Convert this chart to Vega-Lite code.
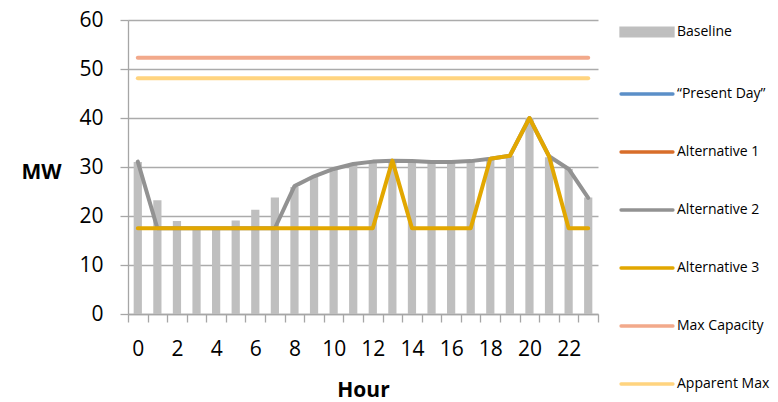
{
  "$schema": "https://vega.github.io/schema/vega-lite/v6.json",
  "width": 470,
  "height": 294,
  "autosize": {"type": "none"},
  "padding": {"left": 128, "top": 20, "right": 180, "bottom": 88},
  "background": "white",
  "config": {
    "view": {"stroke": null},
    "font": "Open Sans",
    "axis": {"labelFont": "Open Sans", "titleFont": "Open Sans", "labelColor": "#000000", "titleColor": "#000000", "domainColor": "#A6A6A6", "tickColor": "#A6A6A6", "gridColor": "#ABABAB", "domainWidth": 1.3, "tickWidth": 1.3, "gridWidth": 1.3}
  },
  "datasets": {
    "baseline": [
      {"hour": 0, "value": 31.0}, {"hour": 1, "value": 23.2}, {"hour": 2, "value": 19.0}, {"hour": 3, "value": 17.3},
      {"hour": 4, "value": 17.3}, {"hour": 5, "value": 19.1}, {"hour": 6, "value": 21.3}, {"hour": 7, "value": 23.8},
      {"hour": 8, "value": 25.9}, {"hour": 9, "value": 28.0}, {"hour": 10, "value": 29.5}, {"hour": 11, "value": 30.5},
      {"hour": 12, "value": 30.9}, {"hour": 13, "value": 31.3}, {"hour": 14, "value": 31.1}, {"hour": 15, "value": 31.0},
      {"hour": 16, "value": 31.0}, {"hour": 17, "value": 31.2}, {"hour": 18, "value": 31.7}, {"hour": 19, "value": 32.3},
      {"hour": 20, "value": 40.0}, {"hour": 21, "value": 32.0}, {"hour": 22, "value": 29.6}, {"hour": 23, "value": 23.8}
    ],
    "lines": [
      {"series": "Max Capacity", "hour": 0, "value": 52.3}, {"series": "Max Capacity", "hour": 1, "value": 52.3}, {"series": "Max Capacity", "hour": 2, "value": 52.3}, {"series": "Max Capacity", "hour": 3, "value": 52.3},
      {"series": "Max Capacity", "hour": 4, "value": 52.3}, {"series": "Max Capacity", "hour": 5, "value": 52.3}, {"series": "Max Capacity", "hour": 6, "value": 52.3}, {"series": "Max Capacity", "hour": 7, "value": 52.3},
      {"series": "Max Capacity", "hour": 8, "value": 52.3}, {"series": "Max Capacity", "hour": 9, "value": 52.3}, {"series": "Max Capacity", "hour": 10, "value": 52.3}, {"series": "Max Capacity", "hour": 11, "value": 52.3},
      {"series": "Max Capacity", "hour": 12, "value": 52.3}, {"series": "Max Capacity", "hour": 13, "value": 52.3}, {"series": "Max Capacity", "hour": 14, "value": 52.3}, {"series": "Max Capacity", "hour": 15, "value": 52.3},
      {"series": "Max Capacity", "hour": 16, "value": 52.3}, {"series": "Max Capacity", "hour": 17, "value": 52.3}, {"series": "Max Capacity", "hour": 18, "value": 52.3}, {"series": "Max Capacity", "hour": 19, "value": 52.3},
      {"series": "Max Capacity", "hour": 20, "value": 52.3}, {"series": "Max Capacity", "hour": 21, "value": 52.3}, {"series": "Max Capacity", "hour": 22, "value": 52.3}, {"series": "Max Capacity", "hour": 23, "value": 52.3},
      {"series": "Apparent Max", "hour": 0, "value": 48.1}, {"series": "Apparent Max", "hour": 1, "value": 48.1}, {"series": "Apparent Max", "hour": 2, "value": 48.1}, {"series": "Apparent Max", "hour": 3, "value": 48.1},
      {"series": "Apparent Max", "hour": 4, "value": 48.1}, {"series": "Apparent Max", "hour": 5, "value": 48.1}, {"series": "Apparent Max", "hour": 6, "value": 48.1}, {"series": "Apparent Max", "hour": 7, "value": 48.1},
      {"series": "Apparent Max", "hour": 8, "value": 48.1}, {"series": "Apparent Max", "hour": 9, "value": 48.1}, {"series": "Apparent Max", "hour": 10, "value": 48.1}, {"series": "Apparent Max", "hour": 11, "value": 48.1},
      {"series": "Apparent Max", "hour": 12, "value": 48.1}, {"series": "Apparent Max", "hour": 13, "value": 48.1}, {"series": "Apparent Max", "hour": 14, "value": 48.1}, {"series": "Apparent Max", "hour": 15, "value": 48.1},
      {"series": "Apparent Max", "hour": 16, "value": 48.1}, {"series": "Apparent Max", "hour": 17, "value": 48.1}, {"series": "Apparent Max", "hour": 18, "value": 48.1}, {"series": "Apparent Max", "hour": 19, "value": 48.1},
      {"series": "Apparent Max", "hour": 20, "value": 48.1}, {"series": "Apparent Max", "hour": 21, "value": 48.1}, {"series": "Apparent Max", "hour": 22, "value": 48.1}, {"series": "Apparent Max", "hour": 23, "value": 48.1},
      {"series": "Alternative 2", "hour": 0, "value": 31.1}, {"series": "Alternative 2", "hour": 1, "value": 17.5}, {"series": "Alternative 2", "hour": 2, "value": 17.5}, {"series": "Alternative 2", "hour": 3, "value": 17.5},
      {"series": "Alternative 2", "hour": 4, "value": 17.5}, {"series": "Alternative 2", "hour": 5, "value": 17.5}, {"series": "Alternative 2", "hour": 6, "value": 17.5}, {"series": "Alternative 2", "hour": 7, "value": 17.5},
      {"series": "Alternative 2", "hour": 8, "value": 26.1}, {"series": "Alternative 2", "hour": 9, "value": 28.1}, {"series": "Alternative 2", "hour": 10, "value": 29.6}, {"series": "Alternative 2", "hour": 11, "value": 30.6},
      {"series": "Alternative 2", "hour": 12, "value": 31.1}, {"series": "Alternative 2", "hour": 13, "value": 31.3}, {"series": "Alternative 2", "hour": 14, "value": 31.2}, {"series": "Alternative 2", "hour": 15, "value": 31.0},
      {"series": "Alternative 2", "hour": 16, "value": 31.0}, {"series": "Alternative 2", "hour": 17, "value": 31.2}, {"series": "Alternative 2", "hour": 18, "value": 31.7}, {"series": "Alternative 2", "hour": 19, "value": 32.3},
      {"series": "Alternative 2", "hour": 20, "value": 40.0}, {"series": "Alternative 2", "hour": 21, "value": 32.2}, {"series": "Alternative 2", "hour": 22, "value": 29.6}, {"series": "Alternative 2", "hour": 23, "value": 23.7},
      {"series": "Alternative 3", "hour": 0, "value": 17.5}, {"series": "Alternative 3", "hour": 1, "value": 17.5}, {"series": "Alternative 3", "hour": 2, "value": 17.5}, {"series": "Alternative 3", "hour": 3, "value": 17.5},
      {"series": "Alternative 3", "hour": 4, "value": 17.5}, {"series": "Alternative 3", "hour": 5, "value": 17.5}, {"series": "Alternative 3", "hour": 6, "value": 17.5}, {"series": "Alternative 3", "hour": 7, "value": 17.5},
      {"series": "Alternative 3", "hour": 8, "value": 17.5}, {"series": "Alternative 3", "hour": 9, "value": 17.5}, {"series": "Alternative 3", "hour": 10, "value": 17.5}, {"series": "Alternative 3", "hour": 11, "value": 17.5},
      {"series": "Alternative 3", "hour": 12, "value": 17.5}, {"series": "Alternative 3", "hour": 13, "value": 31.3}, {"series": "Alternative 3", "hour": 14, "value": 17.5}, {"series": "Alternative 3", "hour": 15, "value": 17.5},
      {"series": "Alternative 3", "hour": 16, "value": 17.5}, {"series": "Alternative 3", "hour": 17, "value": 17.5}, {"series": "Alternative 3", "hour": 18, "value": 31.7}, {"series": "Alternative 3", "hour": 19, "value": 32.3},
      {"series": "Alternative 3", "hour": 20, "value": 40.0}, {"series": "Alternative 3", "hour": 21, "value": 32.2}, {"series": "Alternative 3", "hour": 22, "value": 17.5}, {"series": "Alternative 3", "hour": 23, "value": 17.5}
    ]
  },
  "encoding": {
    "x": {
      "field": "hour", "type": "ordinal",
      "scale": {"paddingInner": 0, "paddingOuter": 0},
      "axis": {
        "title": "Hour", "titleFontSize": 21, "titleFontWeight": "bold", "titleBaseline": "alphabetic", "titleY": 82,
        "labelAngle": 0, "labelFontSize": 21, "labelPadding": 16, "tickSize": 8, "tickBand": "extent",
        "labelExpr": "datum.value % 2 === 0 ? datum.label : ''", "grid": false
      }
    },
    "y": {
      "field": "value", "type": "quantitative",
      "scale": {"domain": [0, 60], "nice": false},
      "axis": {
        "title": "MW", "titleAngle": 0, "titleFontSize": 21, "titleFontWeight": "bold", "titleAlign": "center", "titleBaseline": "middle",
        "titleX": -87, "titleY": 152,
        "values": [0, 10, 20, 30, 40, 50, 60], "labelFontSize": 21, "labelPadding": 17, "tickSize": 8, "grid": true
      }
    }
  },
  "layer": [
    {
      "data": {"name": "baseline"},
      "transform": [{"calculate": "'Baseline'", "as": "series"}],
      "mark": {"type": "bar", "width": {"band": 0.42}},
      "encoding": {
        "color": {
          "field": "series", "type": "nominal",
          "scale": {
            "domain": ["Baseline", "“Present Day”", "Alternative 1", "Alternative 2", "Alternative 3", "Max Capacity", "Apparent Max"],
            "range": ["#BFBFBF", "#5B8FC8", "#D86D2A", "#929292", "#E2A700", "#F2A98B", "#FFD47F"]
          },
          "legend": {
            "title": null, "orient": "none", "legendX": 491, "legendY": -16, "padding": 0,
            "labelFont": "Open Sans", "labelFontSize": 14, "labelColor": "#000000", "labelOffset": 2,
            "symbolSize": 2704, "rowPadding": 23,
            "encode": {
              "symbols": {
                "update": {
                  "shape": {"signal": "datum.value === 'Baseline' ? 'M-1,-0.15H1V0.15H-1Z' : 'stroke'"},
                  "fill": {"signal": "datum.value === 'Baseline' ? scale('color', datum.value) : 'transparent'"},
                  "stroke": {"signal": "datum.value === 'Baseline' ? 'transparent' : scale('color', datum.value)"},
                  "strokeWidth": {"value": 3.3},
                  "strokeCap": {"value": "round"},
                  "opacity": {"value": 1}
                }
              }
            }
          }
        }
      }
    },
    {
      "data": {"name": "lines"},
      "mark": {"type": "line", "strokeWidth": 4, "strokeJoin": "round", "strokeCap": "round"},
      "encoding": {
        "color": {"field": "series", "type": "nominal"},
        "order": {"field": "hour"}
      }
    }
  ]
}
